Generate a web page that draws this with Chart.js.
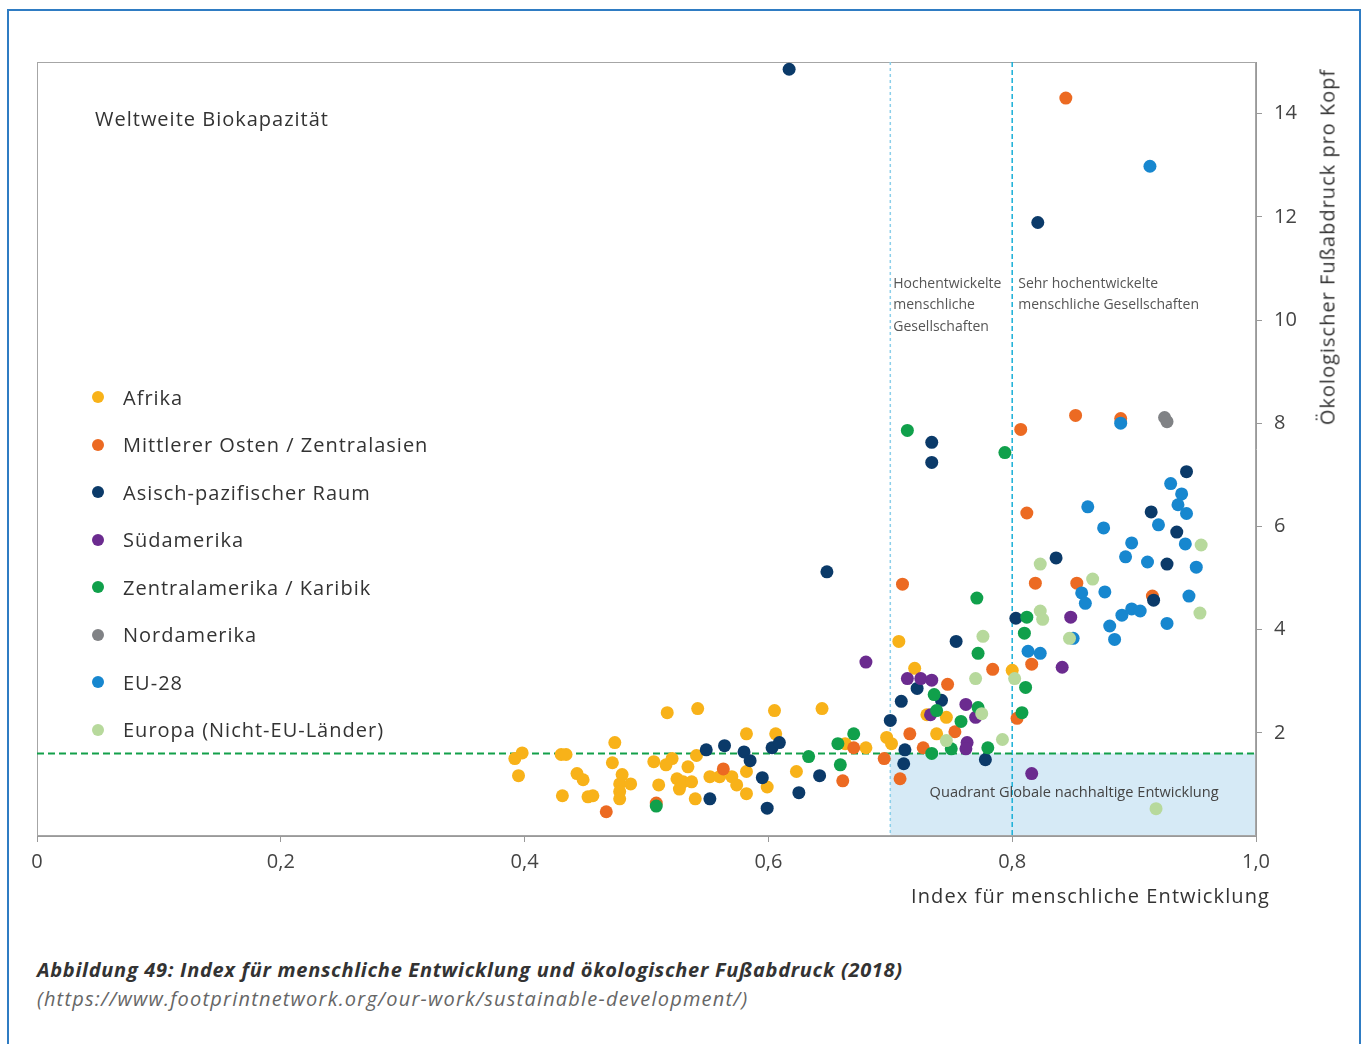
<!DOCTYPE html>
<html lang="de">
<head>
<meta charset="utf-8">
<title>Index für menschliche Entwicklung und ökologischer Fußabdruck</title>
<script src="https://cdn.jsdelivr.net/npm/chart.js@4.4.1/dist/chart.umd.min.js"></script>
<style>
  html, body { margin: 0; padding: 0; background: #fff; }
  body { width: 1366px; height: 1044px; position: relative; overflow: hidden; font-family: 'Open Sans', sans-serif; color: #333; }
  #frame { position: absolute; left: 7px; top: 9px; width: 1354px; height: 1060px; border: 2px solid #2f7cc3; box-sizing: border-box; }
  #chartBox { position: absolute; left: 0; top: 0; width: 1366px; height: 900px; }
  .txt { position: absolute; white-space: nowrap; }
  #bioLabel { left: 95px; top: 105px; font-size: 20px; color: #333; letter-spacing: 1px; }
  #yTitle { left: 1327px; top: 247px; font-size: 20px; color: #333; letter-spacing: 1px; transform: translate(-50%, -50%) rotate(-90deg); }
  #xTitle { right: 96px; top: 882px; font-size: 20px; color: #333; letter-spacing: 1.1px; }
  #legend { position: absolute; left: 0; top: 0; }
  .item { position: absolute; left: 92px; height: 30px; display: flex; align-items: center; font-size: 20px; color: #333; white-space: nowrap; letter-spacing: 1px; }
  .dot { width: 12px; height: 12px; border-radius: 50%; margin-right: 19px; }
  #caption { left: 37px; top: 956px; font-size: 20px; font-weight: bold; font-style: italic; color: #333; letter-spacing: 0.7px; }
  #source { left: 37px; top: 985px; font-size: 20px; font-style: italic; color: #666; letter-spacing: 1.2px; }
</style>
</head>
<body>
<div id="frame"></div>
<div id="chartBox"><canvas id="hdiChart"></canvas></div>
<div class="txt" id="bioLabel">Weltweite Biokapazität</div>
<div class="txt" id="yTitle">Ökologischer Fußabdruck pro Kopf</div>
<div class="txt" id="xTitle">Index für menschliche Entwicklung</div>
<div id="legend"></div>
<div class="txt" id="caption">Abbildung 49: Index für menschliche Entwicklung und ökologischer Fußabdruck (2018)</div>
<div class="txt" id="source">(https://www.footprintnetwork.org/our-work/sustainable-development/)</div>

<script>
// --- Daten: [HDI, Fußabdruck pro Kopf] je Region ---
const afrika = [
  [0.392, 1.50], [0.398, 1.61], [0.395, 1.17], [0.430, 1.58], [0.434, 1.58], [0.443, 1.21],
  [0.448, 1.09], [0.431, 0.78], [0.452, 0.76], [0.456, 0.78], [0.474, 1.81], [0.472, 1.42],
  [0.480, 1.19], [0.478, 1.01], [0.487, 1.01], [0.478, 0.86], [0.478, 0.72], [0.517, 2.39],
  [0.542, 2.47], [0.605, 2.43], [0.644, 2.47], [0.582, 1.98], [0.606, 1.98], [0.541, 1.56],
  [0.521, 1.50], [0.506, 1.44], [0.516, 1.38], [0.534, 1.34], [0.525, 1.11], [0.530, 1.05],
  [0.537, 1.05], [0.552, 1.15], [0.560, 1.15], [0.570, 1.15], [0.574, 0.99], [0.582, 1.25],
  [0.510, 0.99], [0.527, 0.91], [0.540, 0.72], [0.582, 0.82], [0.599, 0.95], [0.623, 1.25],
  [0.680, 1.71], [0.663, 1.79], [0.697, 1.91], [0.701, 1.79], [0.707, 3.77], [0.720, 3.25],
  [0.730, 2.35], [0.746, 2.30], [0.738, 1.98], [0.800, 3.21]
];
const mittlererOsten = [
  [0.467, 0.47], [0.563, 1.30], [0.508, 0.64], [0.670, 1.71], [0.661, 1.07], [0.695, 1.50],
  [0.708, 1.11], [0.716, 1.98], [0.727, 1.71], [0.753, 2.02], [0.747, 2.94], [0.784, 3.23],
  [0.816, 3.33], [0.804, 2.28], [0.710, 4.88], [0.819, 4.90], [0.853, 4.90], [0.812, 6.26],
  [0.807, 7.88], [0.852, 8.15], [0.889, 8.09], [0.915, 4.65], [0.844, 14.30]
];
const asienPazifik = [
  [0.617, 14.86], [0.821, 11.89], [0.648, 5.12], [0.734, 7.63], [0.734, 7.24], [0.943, 7.06],
  [0.914, 6.28], [0.935, 5.89], [0.927, 5.27], [0.916, 4.57], [0.836, 5.39], [0.803, 4.22],
  [0.754, 3.77], [0.722, 2.86], [0.742, 2.63], [0.709, 2.61], [0.700, 2.24], [0.712, 1.67],
  [0.711, 1.40], [0.778, 1.48], [0.549, 1.67], [0.564, 1.75], [0.580, 1.63], [0.585, 1.46],
  [0.603, 1.71], [0.609, 1.81], [0.595, 1.13], [0.552, 0.72], [0.599, 0.54], [0.625, 0.84],
  [0.642, 1.17]
];
const suedamerika = [
  [0.680, 3.37], [0.714, 3.05], [0.725, 3.05], [0.734, 3.02], [0.762, 2.55], [0.733, 2.35],
  [0.770, 2.30], [0.763, 1.81], [0.762, 1.69], [0.816, 1.21], [0.841, 3.27], [0.848, 4.24]
];
const zentralamerika = [
  [0.508, 0.58], [0.633, 1.54], [0.657, 1.79], [0.670, 1.98], [0.659, 1.38], [0.714, 7.86],
  [0.794, 7.43], [0.771, 4.61], [0.812, 4.24], [0.810, 3.93], [0.772, 3.54], [0.811, 2.88],
  [0.736, 2.74], [0.738, 2.43], [0.772, 2.49], [0.808, 2.39], [0.758, 2.22], [0.750, 1.69],
  [0.734, 1.60], [0.780, 1.71]
];
const nordamerika = [[0.925, 8.11], [0.927, 8.03]];
const eu28 = [
  [0.913, 12.98], [0.889, 8.00], [0.930, 6.83], [0.939, 6.63], [0.936, 6.42], [0.943, 6.25],
  [0.862, 6.38], [0.920, 6.03], [0.875, 5.97], [0.898, 5.68], [0.942, 5.66], [0.893, 5.41],
  [0.911, 5.31], [0.951, 5.21], [0.857, 4.71], [0.860, 4.51], [0.876, 4.73], [0.945, 4.65],
  [0.890, 4.28], [0.898, 4.40], [0.905, 4.36], [0.880, 4.07], [0.927, 4.12], [0.850, 3.83],
  [0.884, 3.81], [0.813, 3.58], [0.823, 3.54]
];
const europaNichtEu = [
  [0.823, 5.27], [0.866, 4.98], [0.955, 5.64], [0.954, 4.32], [0.823, 4.36], [0.825, 4.20],
  [0.847, 3.83], [0.776, 3.87], [0.770, 3.05], [0.802, 3.05], [0.775, 2.37], [0.746, 1.85],
  [0.792, 1.87], [0.918, 0.53]
];

const regionen = ['Afrika', 'Mittlerer Osten / Zentralasien', 'Asisch-pazifischer Raum', 'Südamerika',
  'Zentralamerika / Karibik', 'Nordamerika', 'EU-28', 'Europa (Nicht-EU-Länder)'];
const farben = ['#f8b219', '#ec6a22', '#0b3a69', '#6b2b8f', '#10a04b', '#808285', '#1787cf', '#b7d99c'];
const serien = [afrika, mittlererOsten, asienPazifik, suedamerika, zentralamerika, nordamerika, eu28, europaNichtEu];

const xTickVals = [0, 0.2, 0.4, 0.6, 0.8, 1.0];
const xTickLabels = ['0', '0,2', '0,4', '0,6', '0,8', '1,0'];
const yTickVals = [2, 4, 6, 8, 10, 12, 14];

const bioKapazitaet = 1.6;   // weltweite Biokapazität
const hdiHoch = 0.7;         // hochentwickelt
const hdiSehrHoch = 0.8;     // sehr hochentwickelt

// Legende (HTML)
const legendBox = document.getElementById('legend');
regionen.forEach((name, i) => {
  const el = document.createElement('div');
  el.className = 'item';
  el.style.top = (382 + i * 47.5) + 'px';
  el.innerHTML = `<span class="dot" style="background:${farben[i]}"></span>${name}`;
  legendBox.appendChild(el);
});

Chart.defaults.font.family = "'Open Sans', sans-serif";

// Quadrant, Referenzlinien, Rahmen und Beschriftungen
const referenzPlugin = {
  id: 'referenz',
  beforeDatasetsDraw(chart) {
    const { ctx, chartArea: a, scales: { x, y } } = chart;
    const x7 = x.getPixelForValue(hdiHoch);
    const x8 = x.getPixelForValue(hdiSehrHoch);
    const yb = y.getPixelForValue(bioKapazitaet);
    ctx.save();

    ctx.fillStyle = '#d6eaf6';
    ctx.fillRect(x7, yb, a.right - x7, a.bottom - yb);

    ctx.strokeStyle = '#a6a6a6';
    ctx.lineWidth = 1;
    ctx.strokeRect(a.left + 0.5, a.top + 0.5, a.width - 1, a.height - 1);

    ctx.lineWidth = 1.5;
    ctx.setLineDash([3, 3]);
    ctx.strokeStyle = '#8ccfea';
    ctx.beginPath(); ctx.moveTo(x7, a.top); ctx.lineTo(x7, a.bottom); ctx.stroke();

    ctx.setLineDash([5, 3]);
    ctx.strokeStyle = '#1bb0d8';
    ctx.beginPath(); ctx.moveTo(x8, a.top); ctx.lineTo(x8, a.bottom); ctx.stroke();

    ctx.lineWidth = 2;
    ctx.setLineDash([7, 4]);
    ctx.strokeStyle = '#13a04a';
    ctx.beginPath(); ctx.moveTo(a.left, yb); ctx.lineTo(a.right, yb); ctx.stroke();
    ctx.setLineDash([]);

    ctx.fillStyle = '#555';
    ctx.font = "14px 'Open Sans', sans-serif";
    ctx.textBaseline = 'middle';
    ctx.textAlign = 'left';
    ['Hochentwickelte', 'menschliche', 'Gesellschaften'].forEach((t, i) => {
      ctx.fillText(t, x7 + 3, 284 + i * 21.5);
    });
    ['Sehr hochentwickelte', 'menschliche Gesellschaften'].forEach((t, i) => {
      ctx.fillText(t, x8 + 6, 284 + i * 21.5);
    });
    ctx.fillStyle = '#444';
    ctx.textAlign = 'center';
    ctx.font = "14.6px 'Open Sans', sans-serif";
    ctx.fillText('Quadrant Globale nachhaltige Entwicklung', (x7 + a.right) / 2 + 1, y.getPixelForValue(0.84));
    ctx.restore();
  }
};

new Chart(document.getElementById('hdiChart'), {
  type: 'scatter',
  data: {
    datasets: serien.map((s, i) => ({
      label: regionen[i],
      data: s.map(p => ({ x: p[0], y: p[1] })),
      backgroundColor: farben[i],
      borderWidth: 0,
      pointRadius: 6.5,
      order: serien.length - i
    }))
  },
  options: {
    responsive: true,
    maintainAspectRatio: false,
    animation: false,
    layout: { padding: { left: 37, top: 62, right: 0, bottom: 0 } },
    plugins: { legend: { display: false }, tooltip: { enabled: false } },
    scales: {
      x: {
        type: 'linear', position: 'bottom', min: 0, max: 1,
        afterBuildTicks: s => { s.ticks = xTickVals.map(v => ({ value: v })); },
        afterFit: s => { s.height = 64; },
        ticks: { callback: (v, i) => xTickLabels[i], font: { size: 20 }, color: '#444', padding: 8, maxRotation: 0 },
        grid: { drawOnChartArea: false, tickLength: 6, color: '#999' },
        border: { display: true, color: '#999' }
      },
      y: {
        type: 'linear', position: 'right', min: 0, max: 15,
        afterBuildTicks: s => { s.ticks = yTickVals.map(v => ({ value: v })); },
        afterFit: s => { s.width = 110; },
        ticks: { font: { size: 20 }, color: '#444', padding: 12 },
        grid: { drawOnChartArea: false, tickLength: 6, color: '#999' },
        border: { display: true, color: '#999' }
      }
    }
  },
  plugins: [referenzPlugin]
});
</script>
</body>
</html>
